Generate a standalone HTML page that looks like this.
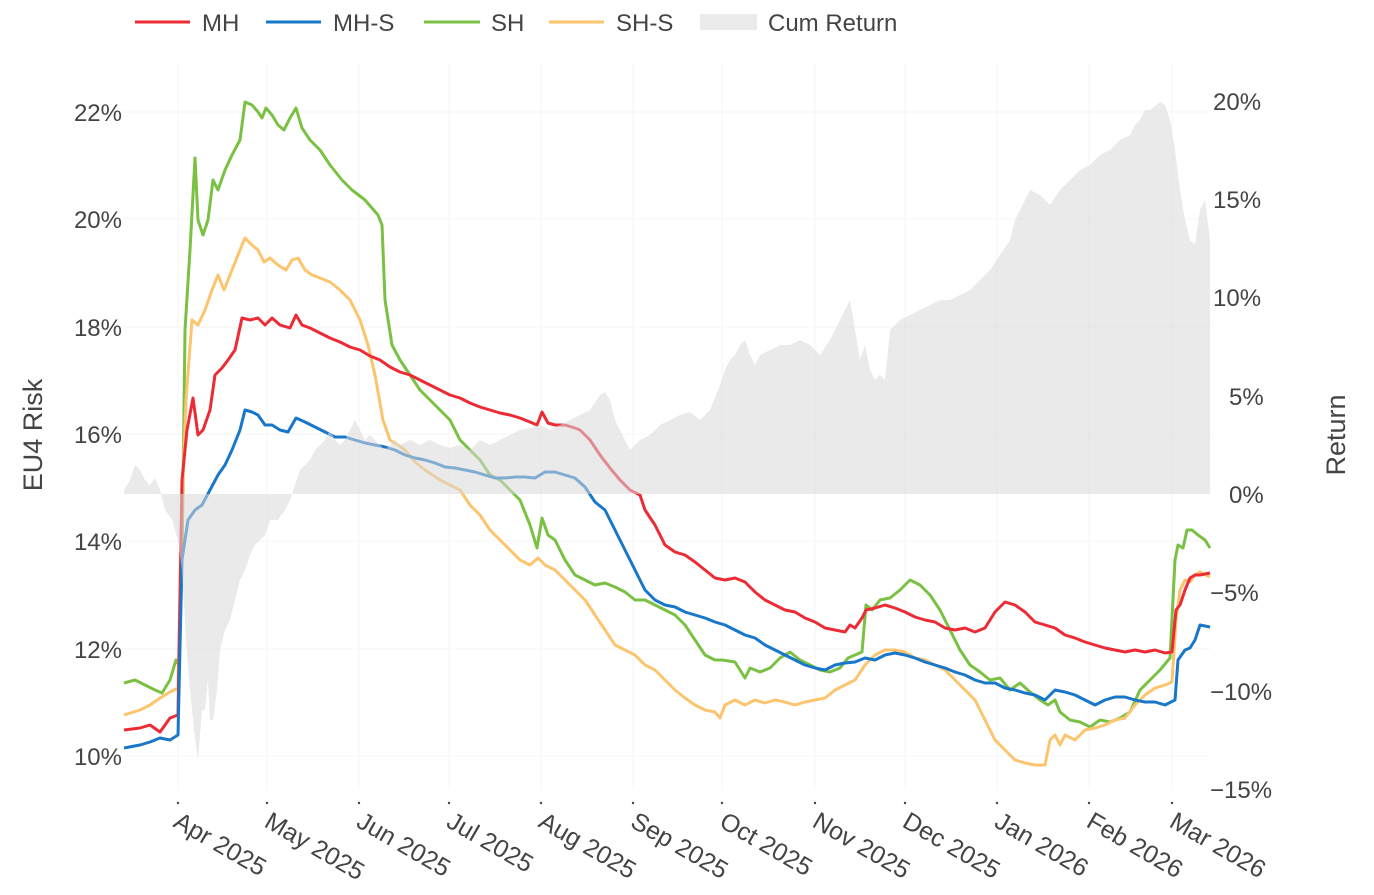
<!DOCTYPE html>
<html><head><meta charset="utf-8"><style>
html,body{margin:0;padding:0;background:#fff;}
svg{display:block;font-family:"Liberation Sans",sans-serif;}
</style></head><body>
<svg width="1374" height="895" viewBox="0 0 1374 895" xmlns="http://www.w3.org/2000/svg">
<g stroke="#f4f4f4" stroke-width="1">
<line x1="178" y1="65" x2="178" y2="790"/><line x1="267" y1="65" x2="267" y2="790"/><line x1="359" y1="65" x2="359" y2="790"/><line x1="449" y1="65" x2="449" y2="790"/><line x1="541" y1="65" x2="541" y2="790"/><line x1="633" y1="65" x2="633" y2="790"/><line x1="722" y1="65" x2="722" y2="790"/><line x1="815" y1="65" x2="815" y2="790"/><line x1="905" y1="65" x2="905" y2="790"/><line x1="997" y1="65" x2="997" y2="790"/><line x1="1089" y1="65" x2="1089" y2="790"/><line x1="1172" y1="65" x2="1172" y2="790"/>
<line x1="124" y1="112" x2="1210" y2="112"/><line x1="124" y1="219" x2="1210" y2="219"/><line x1="124" y1="327" x2="1210" y2="327"/><line x1="124" y1="434" x2="1210" y2="434"/><line x1="124" y1="541" x2="1210" y2="541"/><line x1="124" y1="649" x2="1210" y2="649"/><line x1="124" y1="756" x2="1210" y2="756"/>
</g>
<g fill="none" stroke-width="3" stroke-linejoin="round">
<polyline stroke="#7ac143" points="124,683 135,680 145,685 155,690 162,693 170,680 176,660 179,665 182,560 185,330 190,250 195,158 198,220 203,235 208,220 213,180 218,190 225,170 232,155 240,140 245,102 252,105 258,112 262,118 266,108 272,115 278,125 284,130 290,118 296,108 302,128 310,140 320,150 330,165 342,180 352,190 365,200 378,215 382,225 385,300 392,345 400,360 410,375 420,390 430,400 440,410 450,420 460,440 470,450 480,460 490,475 500,480 510,490 520,500 530,525 537,548 542,518 548,535 555,540 565,560 575,575 585,580 595,585 605,583 615,587 625,592 635,600 645,600 655,605 665,610 675,615 685,625 695,640 705,655 715,660 722,660 735,662 745,678 750,668 760,672 770,668 780,658 790,652 800,660 810,665 820,670 830,672 840,668 848,658 855,655 862,652 866,605 872,610 880,600 890,598 900,590 910,580 920,585 930,595 940,610 950,630 960,650 970,665 980,672 990,680 1000,678 1010,690 1020,683 1030,692 1040,700 1048,705 1055,700 1060,712 1070,720 1080,722 1090,727 1100,720 1110,722 1120,718 1130,712 1140,690 1150,680 1160,670 1170,658 1175,560 1178,545 1183,548 1187,530 1192,530 1198,535 1205,540 1210,548"/>
<polyline stroke="#fdc46e" points="124,715 140,710 150,705 160,698 170,692 178,688 182,500 186,400 192,320 198,325 205,310 212,290 218,275 224,290 232,270 240,250 245,238 252,245 258,250 264,262 270,258 278,265 286,270 292,260 298,258 305,270 312,275 320,278 330,282 340,290 350,300 360,320 368,345 375,375 383,420 390,440 398,445 405,450 415,462 425,470 440,480 450,485 460,490 470,505 480,515 490,530 500,540 510,550 520,560 530,565 538,558 545,565 555,570 565,580 575,590 585,600 595,615 605,630 615,645 625,650 635,655 645,665 655,670 665,680 675,690 685,698 695,705 705,710 715,712 720,718 725,705 735,700 745,705 755,700 765,703 775,700 785,702 795,705 805,702 815,700 825,698 835,690 845,685 855,680 865,665 875,655 885,650 895,650 905,652 915,658 925,660 935,665 945,670 955,680 965,690 975,700 985,720 995,740 1005,750 1015,760 1025,763 1035,765 1045,765 1050,740 1055,735 1060,745 1065,735 1075,740 1085,730 1095,728 1105,725 1115,720 1125,718 1135,705 1145,695 1155,688 1165,685 1172,682 1176,620 1180,590 1185,580 1190,582 1195,575 1200,572 1210,577"/>
<polyline stroke="#ec2b35" points="124,730 140,728 150,725 160,732 170,718 178,715 182,480 187,430 193,398 198,435 203,430 210,410 215,375 222,368 228,360 235,350 242,318 250,320 258,318 265,325 272,318 280,325 290,328 296,315 302,325 310,328 320,333 330,338 340,342 350,347 360,350 370,356 380,360 390,367 400,372 410,375 420,380 430,385 440,390 450,395 460,398 470,403 480,407 490,410 500,413 510,415 520,418 530,422 537,425 542,412 548,423 555,425 565,425 575,428 580,430 590,440 600,455 610,468 620,480 630,490 640,495 645,510 655,525 665,545 675,552 685,555 695,562 705,570 715,578 725,580 735,578 745,582 755,592 765,600 775,605 785,610 795,612 805,618 815,622 825,628 835,630 845,632 850,625 855,628 862,618 866,610 875,608 885,605 895,608 905,612 915,617 925,620 935,622 945,628 955,630 965,628 975,632 985,628 995,612 1005,602 1015,605 1025,612 1035,622 1045,625 1055,628 1065,635 1075,638 1085,642 1095,645 1105,648 1115,650 1125,652 1135,650 1145,652 1155,650 1165,653 1172,652 1176,610 1180,605 1185,590 1190,578 1195,575 1200,575 1210,573"/>
<polyline stroke="#1877c9" points="124,748 140,745 150,742 160,738 170,740 178,735 182,560 188,520 195,510 202,505 210,490 218,475 225,465 232,450 240,430 245,410 252,412 258,415 265,425 272,425 280,430 288,432 296,418 305,422 315,427 325,432 335,437 345,437 355,440 365,443 375,445 385,447 395,450 405,455 415,458 425,460 435,463 445,467 455,468 465,470 475,472 485,475 495,478 505,478 515,477 525,477 535,478 545,472 555,472 565,475 575,478 585,487 595,502 605,510 615,530 625,550 635,570 645,590 655,600 665,605 675,607 685,612 695,615 705,618 715,622 725,625 735,630 745,635 755,638 765,645 775,650 785,655 795,660 805,665 815,668 825,670 835,665 845,663 855,662 865,658 875,660 885,655 895,653 905,655 915,658 925,662 935,665 945,668 955,672 965,675 975,680 985,683 995,683 1005,688 1015,690 1025,693 1035,695 1045,700 1055,690 1065,692 1075,695 1085,700 1095,705 1105,700 1115,697 1125,697 1135,700 1145,702 1155,702 1165,705 1175,700 1178,660 1185,650 1190,648 1195,640 1200,625 1210,627"/>
</g>
<polygon fill="#d8d8d8" fill-opacity="0.55" points="124,494 124,490 130,480 135,465 140,470 145,480 150,485 155,478 160,490 165,510 172,520 178,540 182,570 186,640 190,690 194,730 198,760 202,710 205,710 208,680 210,720 213,720 217,690 220,650 225,630 230,620 235,600 240,580 245,570 250,555 255,545 260,540 265,535 270,520 278,520 285,510 290,500 295,485 300,470 305,465 310,460 315,450 320,445 325,440 330,430 335,440 340,445 345,440 350,430 355,420 360,430 365,440 370,435 375,440 380,445 385,450 390,445 395,440 400,445 410,440 420,445 430,440 440,445 450,448 460,445 470,450 480,440 490,445 500,440 510,435 520,430 530,428 540,425 550,430 560,425 570,420 580,415 590,410 600,395 605,392 610,400 615,420 620,430 625,440 630,450 640,440 650,435 660,425 670,420 680,415 690,412 700,420 710,410 720,385 725,370 730,360 735,355 740,345 745,340 750,355 755,365 760,355 770,350 780,345 790,345 800,340 810,345 820,355 830,340 840,320 845,310 850,300 855,330 860,360 865,345 870,370 875,380 880,375 885,380 890,330 900,320 910,315 920,310 930,305 940,300 950,300 960,295 970,290 980,280 990,270 1000,255 1010,240 1015,220 1020,210 1025,200 1030,190 1040,195 1050,205 1060,190 1070,180 1080,170 1090,165 1100,155 1110,150 1120,140 1130,135 1135,125 1140,120 1145,110 1150,110 1160,102 1165,105 1170,120 1175,150 1180,190 1185,220 1190,240 1195,245 1200,210 1205,200 1210,240 1210,494"/>
<g fill="#444" font-size="24" text-anchor="end">
<text x="122" y="121">22%</text><text x="122" y="228">20%</text><text x="122" y="336">18%</text><text x="122" y="443">16%</text><text x="122" y="550">14%</text><text x="122" y="658">12%</text><text x="122" y="765">10%</text>
</g>
<g fill="#444" font-size="24">
<text x="1213" y="110">20%</text><text x="1213" y="208">15%</text><text x="1213" y="306">10%</text><text x="1229" y="405">5%</text><text x="1229" y="503">0%</text><text x="1210" y="601">−5%</text><text x="1210" y="700">−10%</text><text x="1210" y="798">−15%</text>
</g>
<g fill="#444">
<circle cx="178" cy="803" r="1.2"/><circle cx="267" cy="803" r="1.2"/><circle cx="359" cy="803" r="1.2"/><circle cx="449" cy="803" r="1.2"/><circle cx="541" cy="803" r="1.2"/><circle cx="633" cy="803" r="1.2"/><circle cx="722" cy="803" r="1.2"/><circle cx="815" cy="803" r="1.2"/><circle cx="905" cy="803" r="1.2"/><circle cx="997" cy="803" r="1.2"/><circle cx="1089" cy="803" r="1.2"/><circle cx="1172" cy="803" r="1.2"/>
</g>
<g fill="#444" font-size="25">
<text transform="translate(172,826) rotate(30)">Apr 2025</text>
<text transform="translate(263,826) rotate(30)">May 2025</text>
<text transform="translate(355,826) rotate(30)">Jun 2025</text>
<text transform="translate(445,826) rotate(30)">Jul 2025</text>
<text transform="translate(537,826) rotate(30)">Aug 2025</text>
<text transform="translate(629,826) rotate(30)">Sep 2025</text>
<text transform="translate(718,826) rotate(30)">Oct 2025</text>
<text transform="translate(811,826) rotate(30)">Nov 2025</text>
<text transform="translate(901,826) rotate(30)">Dec 2025</text>
<text transform="translate(993,826) rotate(30)">Jan 2026</text>
<text transform="translate(1085,826) rotate(30)">Feb 2026</text>
<text transform="translate(1168,826) rotate(30)">Mar 2026</text>
</g>
<text transform="translate(42,435) rotate(-90)" text-anchor="middle" fill="#444" font-size="27">EU4 Risk</text>
<text transform="translate(1345,435) rotate(-90)" text-anchor="middle" fill="#444" font-size="27">Return</text>
<g stroke-width="3">
<line x1="135" y1="22" x2="190" y2="22" stroke="#ec2b35"/>
<line x1="266" y1="22" x2="321" y2="22" stroke="#1877c9"/>
<line x1="424" y1="22" x2="480" y2="22" stroke="#7ac143"/>
<line x1="549" y1="22" x2="604" y2="22" stroke="#fdc46e"/>
</g>
<rect x="700" y="14" width="57" height="16" fill="#ebebeb"/>
<g fill="#444" font-size="24">
<text x="202" y="31">MH</text><text x="333" y="31">MH-S</text><text x="491" y="31">SH</text><text x="616" y="31">SH-S</text><text x="768" y="31">Cum Return</text>
</g>
</svg>
</body></html>
